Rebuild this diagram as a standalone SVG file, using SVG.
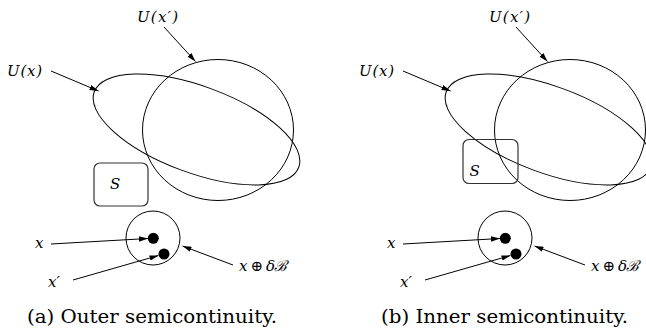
<svg xmlns="http://www.w3.org/2000/svg" width="646" height="328" viewBox="0 0 646 328">
<defs>
<style>
.sh{fill:none;stroke:#000;stroke-width:1}
.box{fill:none;stroke:#333;stroke-width:1.2}
.ar{fill:none;stroke:#000;stroke-width:1;marker-end:url(#ah)}
.dot{fill:#000}
.m{font-family:"DejaVu Serif",serif;font-style:italic;font-size:15px;fill:#000}
.cap{font-family:"DejaVu Serif",serif;font-size:18px;fill:#000}
</style>
<marker id="ah" viewBox="0 0 10 6" refX="10" refY="3" markerWidth="9" markerHeight="5.4" orient="auto" markerUnits="userSpaceOnUse">
<path d="M0,0 L10,3 L0,6 z" fill="#000"/>
</marker>
<clipPath id="cl"><rect x="0" y="0" width="646" height="328"/></clipPath>
</defs>

<g id="panel-a">
<g id="a-Uxp"><ellipse class="sh" cx="218" cy="130" rx="75.5" ry="70.5"/></g>
<g id="a-Ux"><ellipse class="sh" cx="196.5" cy="129.5" rx="109" ry="43.3" transform="rotate(20.25 196.5 129.5)"/></g>
<g id="a-S"><rect class="box" x="94" y="163" width="54" height="43" rx="6"/><text class="m" x="110" y="189">S</text></g>
<g id="a-ball"><circle class="sh" cx="153" cy="238" r="27"/><circle class="dot" cx="153.3" cy="238.3" r="5.5"/><circle class="dot" cx="164" cy="254" r="5.5"/></g>
<g id="a-labels">
<text class="m" x="7" y="76" textLength="35">U(x)</text>
<text class="m" x="137" y="22" textLength="41">U(x′)</text>
<text class="m" x="35" y="247.5">x</text>
<text class="m" x="48" y="286.5">x′</text>
<text class="m" x="239" y="270.5" textLength="48">x <tspan font-style="normal">⊕</tspan> δℬ</text>
</g>
<g id="a-connectors">
<line class="ar" x1="164" y1="27" x2="195.5" y2="61.5"/>
<line class="ar" x1="51" y1="71" x2="98.5" y2="91"/>
<line class="ar" x1="51" y1="244" x2="148" y2="238.5"/>
<line class="ar" x1="73" y1="280" x2="158.5" y2="255.5"/>
<line class="ar" x1="233" y1="265" x2="182.5" y2="246"/>
</g>
<text id="a-caption" class="cap" x="27" y="322.5" textLength="250" lengthAdjust="spacingAndGlyphs">(a) Outer semicontinuity.</text>
</g>

<g id="panel-b" clip-path="url(#cl)">
<g id="b-Uxp"><ellipse class="sh" cx="570" cy="130" rx="75.5" ry="70.5"/></g>
<g id="b-Ux"><ellipse class="sh" cx="548.5" cy="129.5" rx="109" ry="43.3" transform="rotate(20.25 548.5 129.5)"/></g>
<g id="b-S"><rect class="box" x="463" y="139.5" width="55" height="44" rx="6"/><text class="m" x="469.5" y="176">S</text></g>
<g id="b-ball"><circle class="sh" cx="505" cy="238" r="27"/><circle class="dot" cx="505.3" cy="238.3" r="5.5"/><circle class="dot" cx="516" cy="254" r="5.5"/></g>
<g id="b-labels">
<text class="m" x="359" y="76" textLength="35">U(x)</text>
<text class="m" x="489" y="22" textLength="41">U(x′)</text>
<text class="m" x="387" y="247.5">x</text>
<text class="m" x="400" y="286.5">x′</text>
<text class="m" x="591" y="270.5" textLength="48">x <tspan font-style="normal">⊕</tspan> δℬ</text>
</g>
<g id="b-connectors">
<line class="ar" x1="516" y1="27" x2="547.5" y2="61.5"/>
<line class="ar" x1="403" y1="71" x2="450.5" y2="91"/>
<line class="ar" x1="403" y1="244" x2="500" y2="238.5"/>
<line class="ar" x1="425" y1="280" x2="510.5" y2="255.5"/>
<line class="ar" x1="585" y1="265" x2="534.5" y2="246"/>
</g>
<text id="b-caption" class="cap" x="381" y="322.5" textLength="247" lengthAdjust="spacingAndGlyphs">(b) Inner semicontinuity.</text>
</g>
</svg>
